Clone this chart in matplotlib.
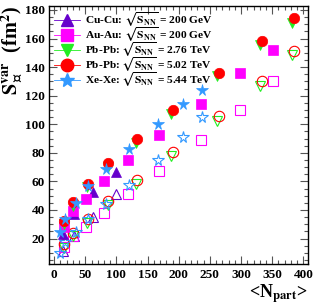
import matplotlib
matplotlib.use("Agg")
import matplotlib.pyplot as plt
from matplotlib.lines import Line2D
from matplotlib.ticker import MultipleLocator

plt.rcParams['font.family'] = ['Liberation Serif', 'DejaVu Serif']
plt.rcParams['font.weight'] = 'bold'
plt.rcParams['mathtext.fontset'] = 'stix'

# ---- data ----
cucu_x = [14, 32, 63, 100]
cucu_full = [23.5, 37.5, 52.5, 66.5]
cucu_open = [11.5, 21.5, 35, 51.3]

auau_x = [16, 31, 51, 80, 118, 168, 235, 299, 351]
auau_full = [28, 39, 48, 60.2, 74.7, 92.5, 114.5, 136, 152]
auau_open = [14, 22, 28.4, 38, 51.4, 67, 88.8, 110.3, 130.2]

pb276_x = [16, 30, 53, 86, 131, 188, 261, 330, 382]
pb276_full = [30, 43, 56, 70, 87, 107.5, 133.5, 155.5, 171]
pb276_open = [13.5, 21.5, 31, 43.5, 58.5, 77.5, 102.5, 127, 148.4]

pb502_x = [16, 30, 54, 87, 133, 190, 264, 333, 385]
pb502_full = [32.6, 45.5, 58.4, 72.6, 89.5, 110.3, 136, 158.2, 174.2]
pb502_open = [16.3, 24.2, 33.5, 46, 61.2, 80.6, 105.6, 130, 151.4]

xexe_x = [10, 18, 35, 54, 83, 120, 166, 207, 238]
xexe_full = [24.4, 33.8, 45.2, 57, 68.5, 83, 100, 114.5, 124]
xexe_open = [10, 17.4, 24.4, 33.8, 44.4, 57.5, 74.7, 91, 105]

labels = [r'Cu-Cu: $\sqrt{\mathbf{S}_{\mathbf{NN}}}$ = 200 GeV',
          r'Au-Au: $\sqrt{\mathbf{S}_{\mathbf{NN}}}$ = 200 GeV',
          r'Pb-Pb: $\sqrt{\mathbf{S}_{\mathbf{NN}}}$ = 2.76 TeV',
          r'Pb-Pb: $\sqrt{\mathbf{S}_{\mathbf{NN}}}$ = 5.02 TeV',
          r'Xe-Xe: $\sqrt{\mathbf{S}_{\mathbf{NN}}}$ = 5.44 TeV']

series = [
    (cucu_x, cucu_full, cucu_open, '^', '#6600cc', 7.5),
    (auau_x, auau_full, auau_open, 's', '#ff00ff', 7.0),
    (pb276_x, pb276_full, pb276_open, 'v', '#22ee22', 7.5),
    (pb502_x, pb502_full, pb502_open, 'o', '#ff0000', 7.5),
    (xexe_x, xexe_full, xexe_open, '*', '#3399ff', 8.5),
]

fig = plt.figure(figsize=(3.15, 3.08), dpi=100)
ax = fig.add_axes([0.154, 0.142, 0.823, 0.8395])

handles = []
for (x, yf, yo, m, c, ms) in series:
    ax.plot(x, yo, linestyle='none', marker=m, markersize=ms,
            markerfacecolor='none', markeredgecolor=c, markeredgewidth=0.8)
for (x, yf, yo, m, c, ms) in series:
    ax.plot(x, yf, linestyle='none', marker=m, markersize=ms,
            markerfacecolor=c, markeredgecolor=c, markeredgewidth=0.5)
    handles.append(Line2D([], [], color=c, alpha=1, lw=0.6, marker=m,
                          markersize=ms + 1.5, markerfacecolor=c, markeredgecolor=c))

ax.set_xlim(-9, 407)
ax.set_ylim(2, 183)
ax.xaxis.set_major_locator(MultipleLocator(50))
ax.xaxis.set_minor_locator(MultipleLocator(10))
ax.yaxis.set_major_locator(MultipleLocator(20))
ax.yaxis.set_minor_locator(MultipleLocator(5))
ax.tick_params(which='both', direction='in', top=True, right=True,
               colors='#555555', labelcolor='black', labelsize=9.5)
ax.tick_params(which='major', length=6, width=0.8)
ax.tick_params(which='minor', length=3, width=0.8)
ax.tick_params(axis='x', pad=3.5)
ax.tick_params(axis='y', pad=2.5)
for lab in ax.get_xticklabels() + ax.get_yticklabels():
    lab.set_fontweight('bold')
for s in ax.spines.values():
    s.set_linewidth(1.0)

ax.set_ylabel(r'$\mathbf{S}_{\perp}^{\mathbf{var}}$  (fm$^{\mathbf{2}}$)', fontsize=14.5,
              fontweight='bold', loc='top', labelpad=0)
ax.set_xlabel(r'<N$_{\mathbf{part}}$>', fontsize=13, fontweight='bold',
              loc='right', labelpad=1)

leg = ax.legend(handles, labels, loc='upper left', bbox_to_anchor=(0.0, 1.0),
                frameon=False, fontsize=8.2, handlelength=2.3, handletextpad=0.45,
                labelspacing=-0.3, borderpad=0.25, borderaxespad=0.2)
for t in leg.get_texts():
    t.set_fontweight('bold')

fig.savefig('out.png', dpi=100)
